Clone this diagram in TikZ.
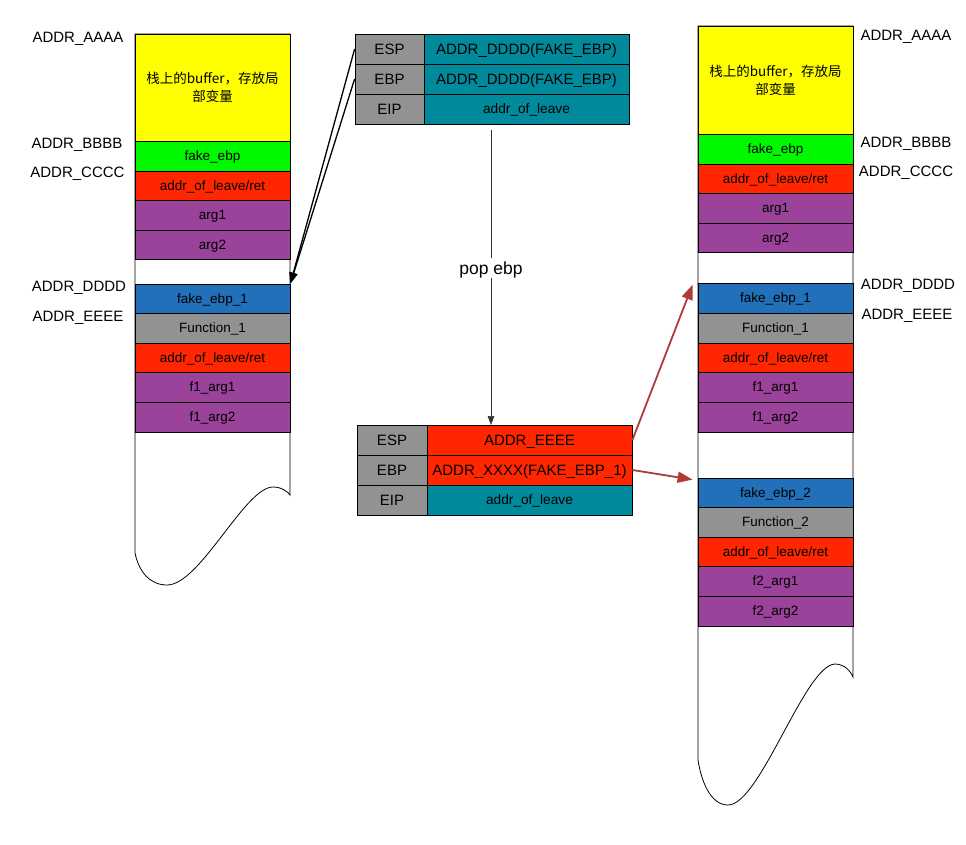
\documentclass[tikz,border=0pt]{standalone}
\usepackage{fontspec}
\setmainfont{Liberation Sans}
\newfontfamily\cjk{Noto Sans CJK SC}
\usetikzlibrary{arrows.meta,calc}
\definecolor{cyel}{HTML}{FFFF00}
\definecolor{cgrn}{HTML}{00F900}
\definecolor{cred}{HTML}{FF2600}
\definecolor{cpur}{HTML}{9B439A}
\definecolor{cblu}{HTML}{2270B9}
\definecolor{cgry}{HTML}{929292}
\definecolor{cteal}{HTML}{008A9B}
\definecolor{carr}{HTML}{B03A3A}
\tikzset{
  cellbase/.style={draw=black, line width=0.8pt, minimum width=155pt, inner sep=0pt, font=\fontsize{13.5}{16}\selectfont},
  cell/.style={cellbase, text height=9.7pt, text depth=0pt},
  h30/.style={minimum height=30pt},
  h29/.style={minimum height=29pt},
  reg/.style={draw=black, line width=0.8pt, fill=cgry, minimum height=30pt, inner sep=0pt, font=\fontsize{15}{18}\selectfont, text height=10.8pt, text depth=0pt},
  val/.style={draw=black, line width=0.8pt, minimum width=205pt, minimum height=30pt, inner sep=0pt, font=\fontsize{15}{18}\selectfont, text height=10.8pt, text depth=0pt},
  valsmall/.style={val, font=\fontsize{13.7}{16}\selectfont, text height=9.9pt},
  addr/.style={font=\fontsize{15}{18}\selectfont, inner sep=0pt, text height=10.8pt, text depth=0pt},
  outline/.style={draw=black, line width=0.8pt, fill=white},
  blk/.style={draw=black, line width=1.3pt, -{Triangle[length=11pt,width=8pt]}},
  redarr/.style={draw=carr, line width=1.8pt, -{Triangle[length=15pt,width=11pt]}}
}
\begin{document}
\begin{tikzpicture}[x=1pt,y=-1pt]
\useasboundingbox (0,0) rectangle (966,845);
% left stack outline
\draw[outline] (135,34) -- (135,553) .. controls (139,572) and (150,585) .. (167,585)
  .. controls (200,585) and (245,487) .. (273,487) .. controls (282,487) and (288,492) .. (290,495)
  -- (290,34) -- cycle;
\node[cellbase, fill=cyel, minimum height=107pt, align=center] (lbuf) at (212.5,87.5) {\cjk 栈上的buffer，存放局\\[2pt]\cjk 部变量};
\node[cell, h30, fill=cgrn] (lfe) at (212.5,156) {fake\_ebp};
\node[cell, h29, fill=cred] (lret) at (212.5,185.5) {addr\_of\_leave/ret};
\node[cell, h30, fill=cpur] (la1) at (212.5,215) {arg1};
\node[cell, h29, fill=cpur] (la2) at (212.5,244.5) {arg2};
\node[cell, h29, fill=cblu] (lfe1) at (212.5,298.5) {fake\_ebp\_1};
\node[cell, h30, fill=cgry] (lf1) at (212.5,328) {Function\_1};
\node[cell, h29, fill=cred] (lret1) at (212.5,357.5) {addr\_of\_leave/ret};
\node[cell, h30, fill=cpur] (lf1a1) at (212.5,387) {f1\_arg1};
\node[cell, h30, fill=cpur] (lf1a2) at (212.5,417) {f1\_arg2};
% left labels
\node[addr] (lA) at (78,37) {ADDR\_AAAA};
\node[addr] (lB) at (77,143) {ADDR\_BBBB};
\node[addr] (lC) at (77.5,172) {ADDR\_CCCC};
\node[addr] (lD) at (79,286) {ADDR\_DDDD};
\node[addr] (lE) at (78,316) {ADDR\_EEEE};
% right stack outline
\draw[outline] (698,26) -- (698,760) .. controls (702,785) and (712,805) .. (728,805)
  .. controls (760,805) and (805,665) .. (835,664) .. controls (845,664) and (851,672) .. (853,677)
  -- (853,26) -- cycle;
\node[cellbase, fill=cyel, minimum height=108pt, align=center] (rbuf) at (775.5,80) {\cjk 栈上的buffer，存放局\\[2pt]\cjk 部变量};
\node[cell, h30, fill=cgrn] (rfe) at (775.5,149) {fake\_ebp};
\node[cell, h29, fill=cred] (rret) at (775.5,178.5) {addr\_of\_leave/ret};
\node[cell, h30, fill=cpur] (ra1) at (775.5,208) {arg1};
\node[cell, h29, fill=cpur] (ra2) at (775.5,237.5) {arg2};
\node[cell, h30, fill=cblu] (rfe1) at (775.5,298) {fake\_ebp\_1};
\node[cell, h30, fill=cgry] (rf1) at (775.5,328) {Function\_1};
\node[cell, h29, fill=cred] (rret1) at (775.5,357.5) {addr\_of\_leave/ret};
\node[cell, h30, fill=cpur] (rf1a1) at (775.5,387) {f1\_arg1};
\node[cell, h30, fill=cpur] (rf1a2) at (775.5,417) {f1\_arg2};
\node[cell, h29, fill=cblu] (rfe2) at (775.5,492.5) {fake\_ebp\_2};
\node[cell, h30, fill=cgry] (rf2) at (775.5,522) {Function\_2};
\node[cell, h29, fill=cred] (rret2) at (775.5,551.5) {addr\_of\_leave/ret};
\node[cell, h30, fill=cpur] (rf2a1) at (775.5,581) {f2\_arg1};
\node[cell, h30, fill=cpur] (rf2a2) at (775.5,611) {f2\_arg2};
% right labels
\node[addr] (rA) at (906,35) {ADDR\_AAAA};
\node[addr] (rB) at (906,142) {ADDR\_BBBB};
\node[addr] (rC) at (906,171) {ADDR\_CCCC};
\node[addr] (rD) at (908,284) {ADDR\_DDDD};
\node[addr] (rE) at (907,314) {ADDR\_EEEE};
% top register table
\node[reg, minimum width=69pt] (tesp) at (389.5,49) {ESP};
\node[reg, minimum width=69pt] (tebp) at (389.5,79) {EBP};
\node[reg, minimum width=69pt] (teip) at (389.5,109) {EIP};
\node[val, fill=cteal] (tespv) at (526.5,49) {ADDR\_DDDD(FAKE\_EBP)};
\node[val, fill=cteal] (tebpv) at (526.5,79) {ADDR\_DDDD(FAKE\_EBP)};
\node[valsmall, fill=cteal] (teipv) at (526.5,109) {addr\_of\_leave};
% bottom register table
\node[reg, minimum width=70pt] (besp) at (392,440) {ESP};
\node[reg, minimum width=70pt] (bebp) at (392,470) {EBP};
\node[reg, minimum width=70pt] (beip) at (392,500) {EIP};
\node[val, fill=cred] (bespv) at (529.5,440) {ADDR\_EEEE};
\node[val, fill=cred] (bebpv) at (529.5,470) {ADDR\_XXXX(FAKE\_EBP\_1)};
\node[valsmall, fill=cteal] (beipv) at (529.5,500) {addr\_of\_leave};
% black arrows to left stack
\draw[blk] (tesp.west) -- (lfe1.north east);
\draw[blk] (tebp.west) -- (lfe1.north east);
% pop ebp arrow
\coordinate (popS) at (491,130);
\coordinate (popE) at (491,425);
\draw[draw=black!80, line width=0.7pt, -{Triangle[length=9pt,width=6.5pt]}] (popS) -- (popE);
\node[fill=white, inner xsep=2pt, inner ysep=4pt, font=\fontsize{17.5}{20}\selectfont, text height=12.6pt, text depth=0pt] (popl) at (491,268) {pop ebp};
% red arrows
\coordinate (rt1) at ($(rfe1.north west)+(-5,2)$);
\coordinate (rt2) at ($(rfe2.north west)+(-5,2)$);
\draw[redarr] (bespv.east) -- (rt1);
\draw[redarr] (bebpv.east) -- (rt2);
\end{tikzpicture}
\end{document}
